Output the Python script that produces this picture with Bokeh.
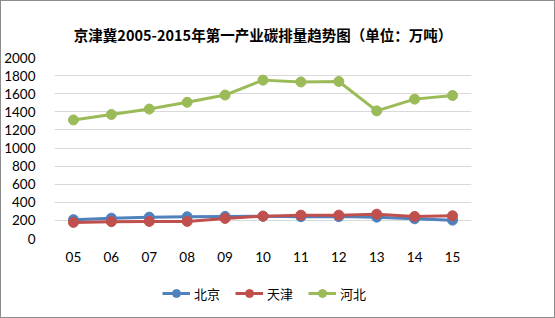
from bokeh.plotting import figure
from bokeh.layouts import column
from bokeh.models import Legend, LegendItem, FixedTicker, ColumnDataSource
from bokeh.embed import file_html
from bokeh.resources import INLINE

years = ["05", "06", "07", "08", "09", "10", "11", "12", "13", "14", "15"]
beijing = [208, 225, 236, 240, 244, 246, 241, 242, 236, 218, 203]
tianjin = [178, 186, 189, 189, 222, 247, 258, 258, 269, 244, 251]
hebei = [1310, 1370, 1430, 1505, 1585, 1750, 1730, 1735, 1410, 1540, 1580]
y_ticks = [0, 200, 400, 600, 800, 1000, 1200, 1400, 1600, 1800, 2000]
title_text = "京津冀2005-2015年第一产业碳排量趋势图（单位：万吨）"
series_names = ["北京", "天津", "河北"]
series_colors = ["#4f81bd", "#c0504d", "#9bbb59"]

p = figure(width=553, height=271, x_range=years, y_range=(0, 2000),
           output_backend="svg", toolbar_location=None,
           min_border_left=49, min_border_right=83, min_border_top=56, min_border_bottom=34)
p.x_range.range_padding = 0
p.outline_line_color = None
p.background_fill_color = "white"
p.border_fill_color = "white"

p.title.text = title_text
p.title.align = "center"
p.title.text_font = "Noto Sans CJK SC"
p.title.text_font_size = "14.5px"
p.title.text_font_style = "bold"
p.title.text_color = "#000000"
p.title.standoff = 25

p.yaxis.ticker = FixedTicker(ticks=y_ticks)
p.yaxis.axis_line_color = None
p.yaxis.major_tick_line_color = None
p.yaxis.minor_tick_line_color = None
p.yaxis.major_label_text_font = "Lato"
p.yaxis.major_label_text_font_size = "13.5px"
p.yaxis.major_label_text_color = "#000000"
p.yaxis.major_label_standoff = 13

p.xaxis.axis_line_color = None
p.xaxis.major_tick_line_color = None
p.xaxis.minor_tick_line_color = None
p.xaxis.major_label_text_font = "Lato"
p.xaxis.major_label_text_font_size = "13.5px"
p.xaxis.major_label_text_color = "#000000"
p.xaxis.major_label_standoff = 7

p.xgrid.grid_line_color = None
p.ygrid.grid_line_color = "#d9d9d9"
p.ygrid.grid_line_width = 1

src = ColumnDataSource(dict(x=years, bj=beijing, tj=tianjin, hb=hebei))
cols = ["bj", "tj", "hb"]
for col, color in zip(cols, series_colors):
    p.line("x", col, source=src, line_color=color, line_width=3)
    p.scatter("x", col, source=src, size=10, fill_color=color, line_color=color)

# legend strip below the chart (series drawn off-view, only the legend shows)
lg = figure(width=553, height=45, x_range=years, y_range=(-2, -1),
            output_backend="svg", toolbar_location=None,
            min_border_left=0, min_border_right=0, min_border_top=0, min_border_bottom=0)
lg.axis.visible = False
lg.grid.visible = False
lg.outline_line_color = None
lg.background_fill_color = "white"
lg.border_fill_color = "white"
items = []
for name, col, color in zip(series_names, cols, series_colors):
    l = lg.line("x", col, source=src, line_color=color, line_width=3)
    c = lg.scatter("x", col, source=src, size=10, fill_color=color, line_color=color)
    items.append(LegendItem(label=name, renderers=[l, c]))
legend = Legend(items=items, orientation="horizontal", location=(108, 14),
                label_text_font="Noto Sans CJK SC", label_text_font_size="13px",
                label_text_color="#000000", border_line_color=None, background_fill_alpha=0,
                glyph_width=28, spacing=15, label_standoff=4, padding=4, margin=0)
lg.add_layout(legend, "center")

layout = column(p, lg, spacing=0)
layout.styles = {"border": "1px solid #8c8c8c"}

open("out.html", "w").write(file_html(layout, INLINE))
